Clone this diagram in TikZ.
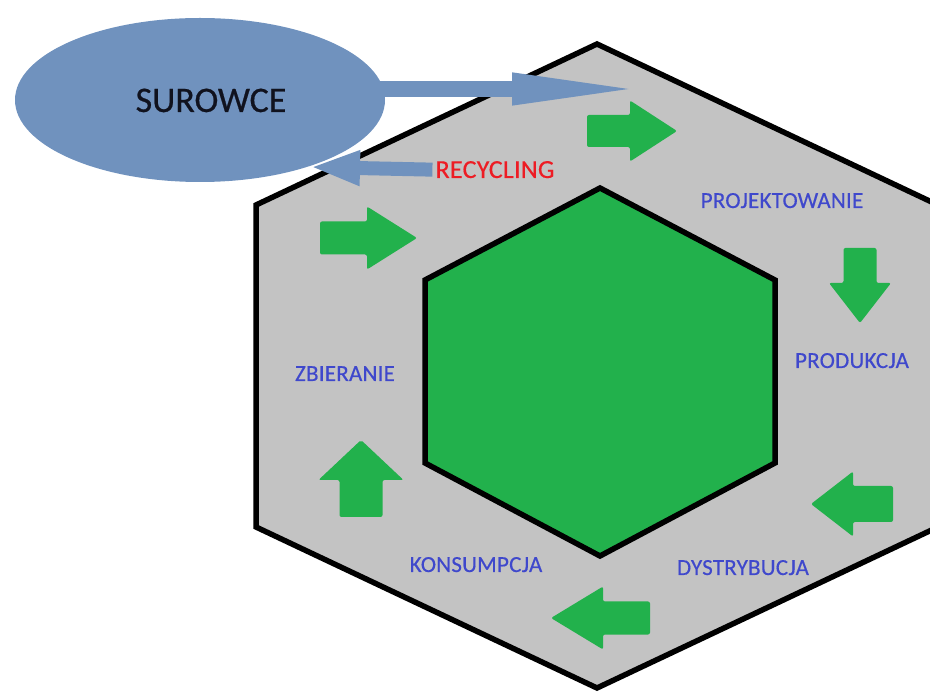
\documentclass[tikz,border=0pt]{standalone}
\usepackage{fontspec}
\setmainfont{Carlito}
\newfontfamily\stagefont[LetterSpace=1, FakeBold=0.4]{Carlito}
\newfontfamily\rawfont[FakeBold=0.6]{Carlito}
\usetikzlibrary{arrows.meta,shapes.geometric}
\definecolor{ringgray}{HTML}{C3C3C3}
\definecolor{coregreen}{HTML}{22B14C}
\definecolor{rawblue}{HTML}{7092BE}
\definecolor{stageblue}{HTML}{3F48CC}
\definecolor{recred}{HTML}{ED1C24}
\definecolor{rawtext}{HTML}{10121E}
\begin{document}
\begin{tikzpicture}[x=1pt, y=-1pt, line join=miter]
	\tikzset{
		stage/.style={text=stageblue, font=\stagefont\fontsize{23}{26}\selectfont, inner sep=0pt, anchor=base},
		flow/.style={draw=rawblue, line width=#1},
		pics/grarrow/.style n args={4}{code={
			\fill[coregreen, rounded corners=2pt] (0,-#3) -- (#2,-#3) -- (#2,-#4) -- (#1,0) -- (#2,#4) -- (#2,#3) -- (0,#3) -- cycle;}}
	}
	\useasboundingbox (0,0) rectangle (930,692);
	% outer ring and core
	\draw[fill=ringgray, line width=5.5pt] (597,44) -- (938,205) -- (938,527) -- (597,688) -- (256,527) -- (256,205) -- cycle;
	\draw[fill=coregreen, line width=5.5pt] (600,188) -- (775,280) -- (775,463) -- (600,556) -- (425,463) -- (425,280) -- cycle;
	% green arrows round the cycle
	\pic at (587,131) {grarrow={90}{43}{16}{30.5}};
	\pic[rotate=-90] at (860,248) {grarrow={75}{35}{16.5}{31}};
	\pic[rotate=180] at (893,504) {grarrow={82}{40}{18}{32.5}};
	\pic[rotate=180] at (650,618) {grarrow={99}{47}{16.5}{31.5}};
	\pic[rotate=90] at (361,517) {grarrow={77}{37}{21.5}{42.5}};
	\pic at (320,238) {grarrow={97}{47}{16.5}{31.5}};
	% stages
	\node[stage] (proj) at (782,208) {PROJEKTOWANIE};
	\node[stage] (prod) at (852,368) {PRODUKCJA};
	\node[stage] (dyst) at (743,575) {DYSTRYBUCJA};
	\node[stage] (kons) at (476,572) {KONSUMPCJA};
	\node[stage] (zbier) at (345,381) {ZBIERANIE};
	\node[stage, text=recred, font=\stagefont\fontsize{26}{30}\selectfont] (recyc) at (495,178) {RECYCLING};
	% raw materials
	\coordinate (intip) at (653,89);
	\coordinate (outtip) at (310,167);
	\node[ellipse, minimum width=370pt, minimum height=164pt, inner sep=0pt] (sur) at (200,100) {};
	\draw[flow=16pt, -{Triangle[length=141pt, width=28pt]}] (sur.center |- intip) -- (intip);
	\draw[flow=14pt, -{Triangle[length=50pt, width=32pt]}] ([xshift=-3pt]recyc.west) -- (outtip);
	\fill[rawblue] (sur.center) ellipse [x radius=185, y radius=82];
	\node[anchor=base, inner sep=0pt, text=rawtext, font=\rawfont\fontsize{36}{40}\selectfont] (surtext) at (211,112) {SUROWCE};
\end{tikzpicture}
\end{document}
